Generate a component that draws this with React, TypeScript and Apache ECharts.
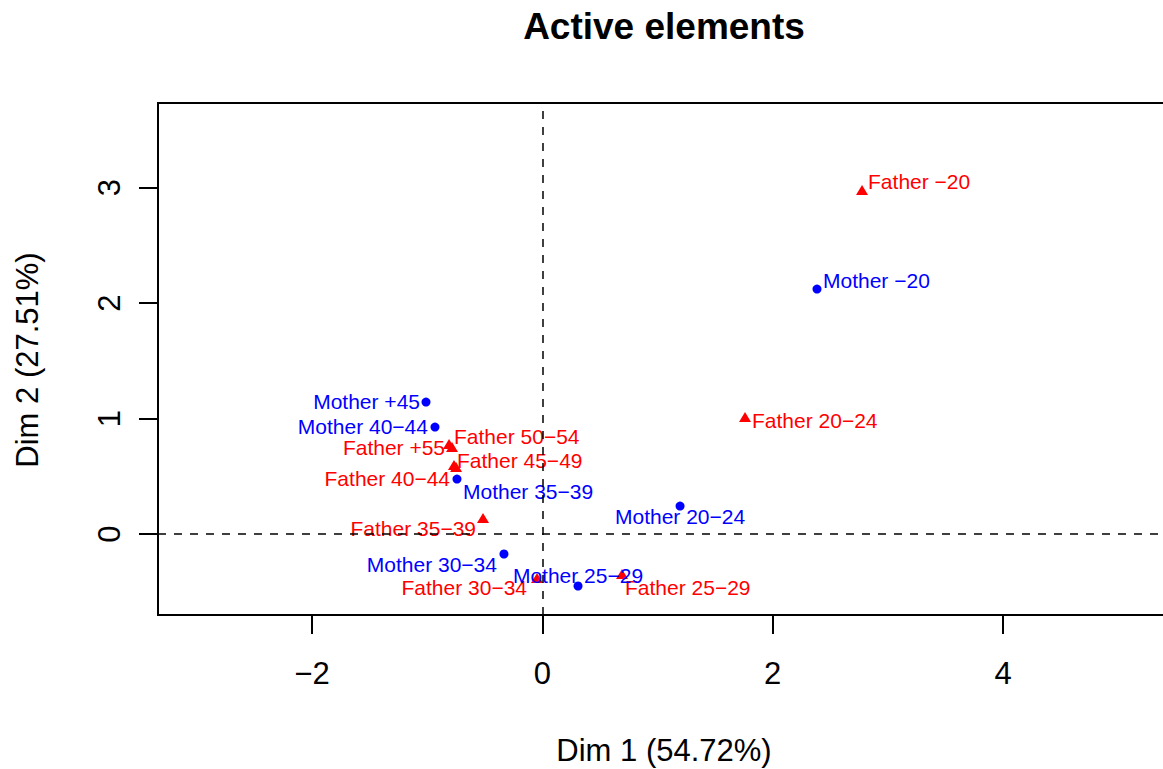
import React, { useEffect, useRef } from "react";
import * as echarts from "echarts";

// ---- data ----
const motherNames = ["Mother −20", "Mother 20−24", "Mother 25−29", "Mother 30−34", "Mother 35−39", "Mother 40−44", "Mother +45"];
const motherDim1 = [2.385, 1.196, 0.31, -0.333, -0.741, -0.932, -1.01];
const motherDim2 = [2.121, 0.242, -0.45, -0.173, 0.476, 0.926, 1.143];

const fatherNames = ["Father −20", "Father 20−24", "Father 25−29", "Father 30−34", "Father 35−39", "Father 40−44", "Father 45−49", "Father 50−54", "Father +55"];
const fatherDim1 = [2.776, 1.76, 0.692, -0.046, -0.515, -0.749, -0.767, -0.784, -0.81];
const fatherDim2 = [2.978, 1.013, -0.346, -0.381, 0.139, 0.58, 0.597, 0.753, 0.779];

const xTicks = [-2, 0, 2, 4];
const yTicks = [0, 1, 2, 3];

const titleText = "Active elements";
const xTitle = "Dim 1 (54.72%)";
const yTitle = "Dim 2 (27.51%)";

// ---- label placement (style): [align, dx, dy] relative to the point ----
const motherLabelPlace: [string, number, number][] = [
  ["left", 6, -9], ["center", 0, 10], ["center", 0, -11], ["right", -7, 10],
  ["left", 6, 12], ["right", -7, -1], ["right", -6, -1],
];
const fatherLabelPlace: [string, number, number][] = [
  ["left", 6, -9], ["left", 7, 3], ["left", 3, 14], ["right", -10, 9],
  ["right", -7, 11], ["right", -6, 11], ["left", 3, -5], ["left", 2, -11], ["right", -4, 3],
];

const FONT = "'Liberation Sans', Arial, Helvetica, sans-serif";
const BLUE = "#0000FF";
const RED = "#FF0000";
const CIRCLE = 9;
const TRI: [number, number] = [12, 10];
const TICK_LEN = 19;

const X_MIN = -3.337;
const X_MAX = 5.45;
const Y_MIN = -0.701;
const Y_MAX = 3.732;

const GRID_L = 158;
const GRID_T = 103;
const GRID_R = 30;
const GRID_B = 154;

const fmt = (v: number) => (v < 0 ? "\u2212" + Math.abs(v) : String(v));

function buildItems(names: string[], xs: number[], ys: number[], place: [string, number, number][], w: number, h: number, color: string) {
  return names.map((n, i) => {
    const [align, dx, dy] = place[i];
    return {
      name: n,
      value: [xs[i], ys[i]],
      label: {
        show: true,
        formatter: n,
        position: [dx + w / 2, dy + h / 2],
        align,
        verticalAlign: "middle",
        color,
        fontSize: 21,
        fontFamily: FONT,
      },
    };
  });
}

const hiddenAxis = (gridIndex: number, min: number, max: number) => ({
  type: "value",
  gridIndex,
  min,
  max,
  show: false,
  axisLine: { show: false, onZero: false },
  axisTick: { show: false },
  axisLabel: { show: false },
  splitLine: { show: false },
});

export default function App() {
  const ref = useRef<HTMLDivElement>(null);
  useEffect(() => {
    if (!ref.current) return;
    const chart = echarts.init(ref.current, undefined, { renderer: "svg" });
    const tickLine = { color: "#000", type: "solid", width: 2 };
    const option: any = {
      animation: false,
      backgroundColor: "#fff",
      grid: [
        { left: GRID_L, top: GRID_T, right: GRID_R, bottom: GRID_B, show: true, borderColor: "#000", borderWidth: 2 },
        // strip below the plot that holds the x ticks
        { left: GRID_L, right: GRID_R, bottom: GRID_B - TICK_LEN, height: TICK_LEN, show: false },
        // strip left of the plot that holds the y ticks
        { left: GRID_L - TICK_LEN, width: TICK_LEN, top: GRID_T, bottom: GRID_B, show: false },
      ],
      xAxis: [
        {
          type: "value",
          gridIndex: 0,
          min: X_MIN,
          max: X_MAX,
          axisLine: { show: false, onZero: false },
          axisTick: { show: false },
          splitLine: { show: false },
          axisLabel: { customValues: xTicks, formatter: fmt, margin: 43, fontSize: 31, color: "#000", fontFamily: FONT },
        },
        hiddenAxis(1, X_MIN, X_MAX),
        hiddenAxis(2, 0, 1),
      ],
      yAxis: [
        {
          type: "value",
          gridIndex: 0,
          min: Y_MIN,
          max: Y_MAX,
          axisLine: { show: false, onZero: false },
          axisTick: { show: false },
          splitLine: { show: false },
          axisLabel: { customValues: yTicks, formatter: fmt, rotate: 90, margin: 33, fontSize: 31, color: "#000", fontFamily: FONT },
        },
        hiddenAxis(1, 0, 1),
        hiddenAxis(2, Y_MIN, Y_MAX),
      ],
      graphic: [
        { type: "text", x: 664, y: 26, style: { text: titleText, font: `bold 37px ${FONT}`, fill: "#000", align: "center", verticalAlign: "middle", textAlign: "center", textVerticalAlign: "middle" } },
        { type: "text", x: 664, y: 750, style: { text: xTitle, font: `31px ${FONT}`, fill: "#000", align: "center", verticalAlign: "middle", textAlign: "center", textVerticalAlign: "middle" } },
        { type: "text", x: 27, y: 360, rotation: Math.PI / 2, style: { text: yTitle, font: `31px ${FONT}`, fill: "#000", align: "center", verticalAlign: "middle", textAlign: "center", textVerticalAlign: "middle" } },
      ],
      series: [
        {
          type: "scatter",
          name: "Father",
          xAxisIndex: 0,
          yAxisIndex: 0,
          symbol: "triangle",
          symbolSize: TRI,
          itemStyle: { color: RED, opacity: 1 },
          data: buildItems(fatherNames, fatherDim1, fatherDim2, fatherLabelPlace, TRI[0], TRI[1], RED),
          markLine: {
            silent: true,
            symbol: ["none", "none"],
            label: { show: false },
            lineStyle: { color: "#000", type: [8, 8], width: 1.5 },
            data: [{ xAxis: 0 }, { yAxis: 0 }],
          },
          z: 3,
        },
        {
          type: "scatter",
          name: "Mother",
          xAxisIndex: 0,
          yAxisIndex: 0,
          symbol: "circle",
          symbolSize: CIRCLE,
          itemStyle: { color: BLUE, opacity: 1 },
          data: buildItems(motherNames, motherDim1, motherDim2, motherLabelPlace, CIRCLE, CIRCLE, BLUE),
          z: 4,
        },
        {
          type: "scatter",
          name: "xTicks",
          xAxisIndex: 1,
          yAxisIndex: 1,
          symbol: "none",
          silent: true,
          data: [[X_MIN, 0]],
          markLine: {
            silent: true,
            symbol: ["none", "none"],
            label: { show: false },
            lineStyle: tickLine,
            data: xTicks.map((v) => ({ xAxis: v })),
          },
        },
        {
          type: "scatter",
          name: "yTicks",
          xAxisIndex: 2,
          yAxisIndex: 2,
          symbol: "none",
          silent: true,
          data: [[0, Y_MIN]],
          markLine: {
            silent: true,
            symbol: ["none", "none"],
            label: { show: false },
            lineStyle: tickLine,
            data: yTicks.map((v) => ({ yAxis: v })),
          },
        },
      ],
    };
    chart.setOption(option);
    return () => chart.dispose();
  }, []);
  return (
    <div style={{ position: "absolute", left: 0, top: 0, width: 1163, height: 769, overflow: "hidden", background: "#fff" }}>
      <div ref={ref} style={{ width: 1200, height: 769 }} />
    </div>
  );
}
